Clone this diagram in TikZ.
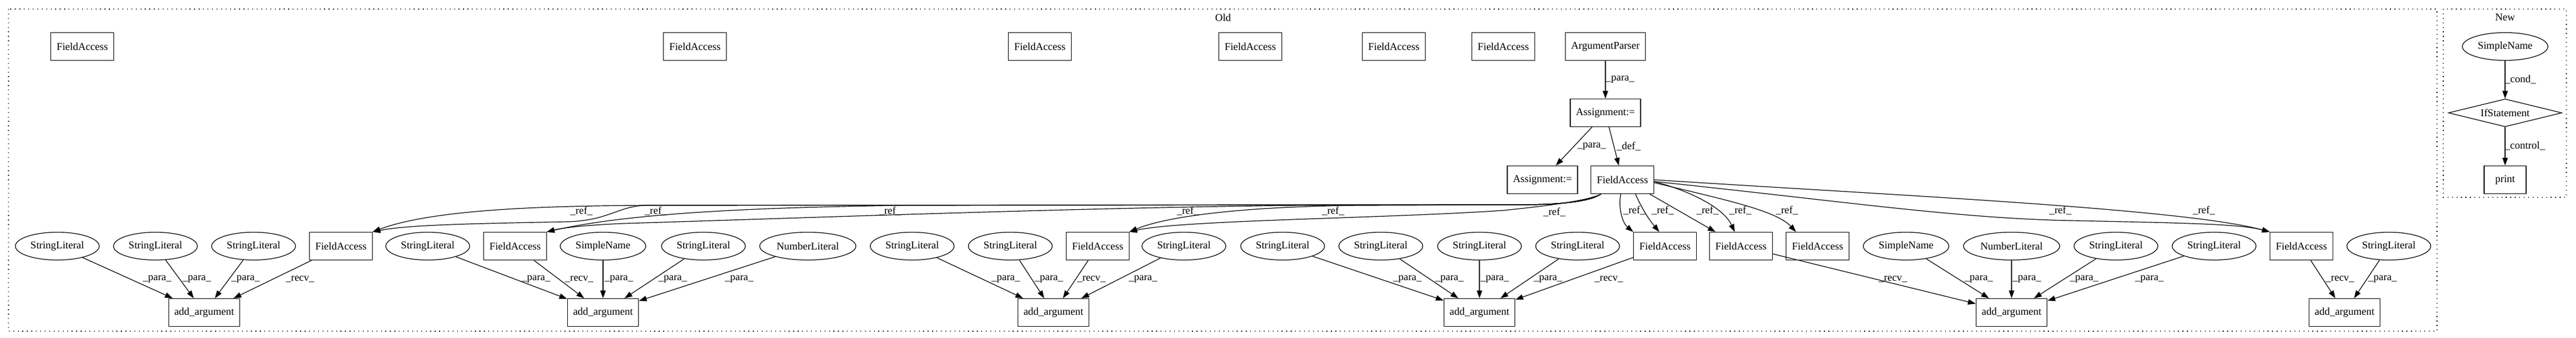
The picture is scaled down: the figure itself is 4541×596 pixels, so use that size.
\documentclass[tikz,border=0pt]{standalone}
\usepackage{fontspec}
\setmainfont{Liberation Serif}
\usetikzlibrary{arrows.meta, shapes.geometric}

\begin{document}
\begin{tikzpicture}[x=1pt, y=-1pt,
		every node/.style={font=\fontsize{18.5}{22}\selectfont},
		box/.style={draw, rectangle, line width=1.2, minimum width=74, minimum height=49, inner xsep=10, inner ysep=0},
		lit/.style={draw, ellipse, line width=1.2, minimum height=49, inner xsep=5, inner ysep=0},
		cond/.style={draw, diamond, line width=1.2, minimum width=200, minimum height=49, inner sep=0, aspect=4},
		lab/.style={inner sep=0},
		arr/.style={line width=1.2, -{Triangle[length=13.6, width=9.5]}},
		clus/.style={line width=1.2, dash pattern=on 1.3 off 6.6}]
	\useasboundingbox (0,0) rectangle (4541,596);

	% clusters
	\draw[clus] (15,16) rectangle (4296,584);
	\node (old) at (2156,31) {Old};
	\draw[clus] (4307,16) rectangle (4524,348);
	\node (new) at (4416,31) {New};

	% old: top
	\node[box] (t1) at (145,82) {FieldAccess};
	\node[box] (t2) at (1225,82) {FieldAccess};
	\node[box] (t3) at (1833,82) {FieldAccess};
	\node[box] (t4) at (2204,82) {FieldAccess};
	\node[box] (t5) at (2457,82) {FieldAccess};
	\node[box] (t6) at (2650,82) {FieldAccess};
	\node[box] (ap) at (2830,82) {ArgumentParser};
	\node[box] (as1) at (2830,199) {Assignment:=};
	\node[box] (as2) at (2719,317) {Assignment:=};
	\node[box] (fam) at (2860,317) {FieldAccess};

	% old: bottom row
	\node[lit] (sl1) at (101,434) {StringLiteral};
	\node[lit] (sl2) at (274,434) {StringLiteral};
	\node[lit] (sl3) at (447,434) {StringLiteral};
	\node[box] (fa1) at (601,434) {FieldAccess};
	\node[lit] (sl4) at (754,434) {StringLiteral};
	\node[box] (fa2) at (908,434) {FieldAccess};
	\node[lit] (sn1) at (1063,434) {SimpleName};
	\node[lit] (sl5) at (1240,434) {StringLiteral};
	\node[lit] (nl1) at (1424,434) {NumberLiteral};
	\node[lit] (sl6) at (1608,434) {StringLiteral};
	\node[lit] (sl7) at (1781,434) {StringLiteral};
	\node[box] (fa3) at (1935,434) {FieldAccess};
	\node[lit] (sl8) at (2087,434) {StringLiteral};
	\node[lit] (sl9) at (2261,434) {StringLiteral};
	\node[lit] (sl10) at (2434,434) {StringLiteral};
	\node[lit] (sl11) at (2608,434) {StringLiteral};
	\node[lit] (sl12) at (2781,434) {StringLiteral};
	\node[box] (fa4) at (2935,434) {FieldAccess};
	\node[box] (fa5) at (3069,434) {FieldAccess};
	\node[box] (fa6) at (3204,434) {FieldAccess};
	\node[lit] (sn2) at (3360,434) {SimpleName};
	\node[lit] (nl2) at (3546,434) {NumberLiteral};
	\node[lit] (sl13) at (3730,434) {StringLiteral};
	\node[lit] (sl14) at (3903,434) {StringLiteral};
	\node[box] (fa7) at (4057,434) {FieldAccess};
	\node[lit] (sl15) at (4211,434) {StringLiteral};

	\node[box] (aa1) at (360,551) {add\_argument};
	\node[box] (aa2) at (1063,551) {add\_argument};
	\node[box] (aa3) at (1857,551) {add\_argument};
	\node[box] (aa4) at (2608,551) {add\_argument};
	\node[box] (aa5) at (3546,551) {add\_argument};
	\node[box] (aa6) at (4133,551) {add\_argument};

	% new
	\node[lit] (sn3) at (4416,82) {SimpleName};
	\node[cond] (ifs) at (4416,199) {IfStatement};
	\node[box] (prt) at (4416,317) {print};

	\draw[arr] (ap) -- (as1) node[lab] at (2856,140) {\_para\_};
	\draw[arr] (as1) -- (as2) node[lab] at (2806,258) {\_para\_};
	\draw[arr] (as1) -- (fam) node[lab] at (2871,258) {\_def\_};
	\draw[arr] (sn3) -- (ifs) node[lab] at (4443,140) {\_cond\_};
	\draw[arr] (ifs) -- (prt) node[lab] at (4451,257) {\_control\_};

	% _ref_ to the left
	\draw[arr] ([xshift=18]fam.south west) .. controls (2805,354) and (2760,361) .. (2680,361) -- (1143,362)
		.. controls (950,363) and (760,370) .. (fa1.north east) node[lab] at (1025,372) {\_ref\_};
	\draw[arr] ([xshift=18]fam.south west) .. controls (2805,354) and (2760,361) .. (2680,361) -- (1143,362)
		.. controls (1090,362) and (1075,389) .. (1000,391) .. controls (850,394) and (720,396) .. (fa1.north east)
		node[lab] at (1156,372) {\_ref\_};
	\draw[arr] ([xshift=18]fam.south west) .. controls (2805,354) and (2760,361) .. (2680,361) -- (1600,362)
		.. controls (1300,366) and (1100,378) .. (fa2.north east) node[lab] at (1569,372) {\_ref\_};
	\draw[arr] ([xshift=18]fam.south west) .. controls (2805,354) and (2760,361) .. (2680,361) -- (2300,362)
		.. controls (1900,366) and (1400,385) .. (1100,394) .. controls (1030,397) and (990,402) .. (fa2.north east)
		node[lab] at (2094,372) {\_ref\_};
	\draw[arr] ([xshift=18]fam.south west) .. controls (2805,354) and (2760,361) .. (2680,361) -- (2400,362)
		.. controls (2200,364) and (2060,380) .. (fa3.north east) node[lab] at (2350,372) {\_ref\_};
	\draw[arr] ([xshift=18]fam.south west) .. controls (2805,352) and (2740,362) .. (2650,371)
		.. controls (2450,385) and (2080,388) .. (fa3.north east) node[lab] at (2740,374) {\_ref\_};

	% _ref_ to the right
	\draw[arr] ([xshift=-3]fam.south) .. controls (2852,372) and (2862,395) .. (fa4.north west)
		node[lab] at (2881,371) {\_ref\_};
	\draw[arr] ([xshift=23]fam.south) .. controls (2893,365) and (2905,385) .. ([xshift=-10]fa4.north)
		node[lab] at (2931,371) {\_ref\_};
	\draw[arr] ([xshift=48]fam.south) -- ([xshift=-45]fa5.north) node[lab] at (3010,371) {\_ref\_};
	\draw[arr] ([yshift=-3]fam.east) .. controls (2990,340) and (3040,370) .. ([xshift=-11]fa5.north)
		node[lab] at (3068,371) {\_ref\_};
	\draw[arr] ([yshift=-5]fam.east) .. controls (3030,350) and (3130,370) .. ([xshift=-38]fa6.north)
		node[lab] at (3150,371) {\_ref\_};
	\draw[arr] ([yshift=-3]fam.east) .. controls (3250,355) and (3450,385) .. (3650,389)
		.. controls (3850,393) and (3950,395) .. (fa7.north west) node[lab] at (3632,371) {\_ref\_};
	\draw[arr] (fam.east) .. controls (3350,345) and (3850,368) .. (fa7.north west)
		node[lab] at (3885,371) {\_ref\_};

	% arguments
	\draw[arr] (sl1) -- (aa1) node[lab] at (277,492) {\_para\_};
	\draw[arr] (sl2) -- (aa1) node[lab] at (347,492) {\_para\_};
	\draw[arr] (sl3) -- (aa1) node[lab] at (433,492) {\_para\_};
	\draw[arr] (fa1) -- (aa1) node[lab] at (529,492) {\_recv\_};

	\draw[arr] (sl4) -- (aa2) node[lab] at (945,492) {\_para\_};
	\draw[arr] (fa2) -- (aa2) node[lab] at (1021,492) {\_recv\_};
	\draw[arr] (sn1) -- (aa2) node[lab] at (1091,492) {\_para\_};
	\draw[arr] (sl5) -- (aa2) node[lab] at (1186,492) {\_para\_};
	\draw[arr] (nl1) -- (aa2) node[lab] at (1303,492) {\_para\_};

	\draw[arr] (sl6) -- (aa3) node[lab] at (1773,492) {\_para\_};
	\draw[arr] (sl7) -- (aa3) node[lab] at (1849,492) {\_para\_};
	\draw[arr] (fa3) -- (aa3) node[lab] at (1924,492) {\_recv\_};
	\draw[arr] (sl8) -- (aa3) node[lab] at (2015,492) {\_para\_};

	\draw[arr] (sl9) -- (aa4) node[lab] at (2481,492) {\_para\_};
	\draw[arr] (sl10) -- (aa4) node[lab] at (2555,492) {\_para\_};
	\draw[arr] (sl11) -- (aa4) node[lab] at (2635,492) {\_para\_};
	\draw[arr] (sl12) -- (aa4) node[lab] at (2729,492) {\_para\_};
	\draw[arr] (fa4) -- (aa4) node[lab] at (2836,492) {\_recv\_};

	\draw[arr] (fa5) -- (aa5) node[lab] at (3337,492) {\_recv\_};
	\draw[arr] (sn2) -- (aa5) node[lab] at (3488,492) {\_para\_};
	\draw[arr] (nl2) -- (aa5) node[lab] at (3573,492) {\_para\_};
	\draw[arr] (sl13) -- (aa5) node[lab] at (3674,492) {\_para\_};
	\draw[arr] (sl14) -- (aa5) node[lab] at (3789,492) {\_para\_};

	\draw[arr] (fa7) -- (aa6) node[lab] at (4125,492) {\_recv\_};
	\draw[arr] (sl15) -- (aa6) node[lab] at (4200,492) {\_para\_};
\end{tikzpicture}
\end{document}
